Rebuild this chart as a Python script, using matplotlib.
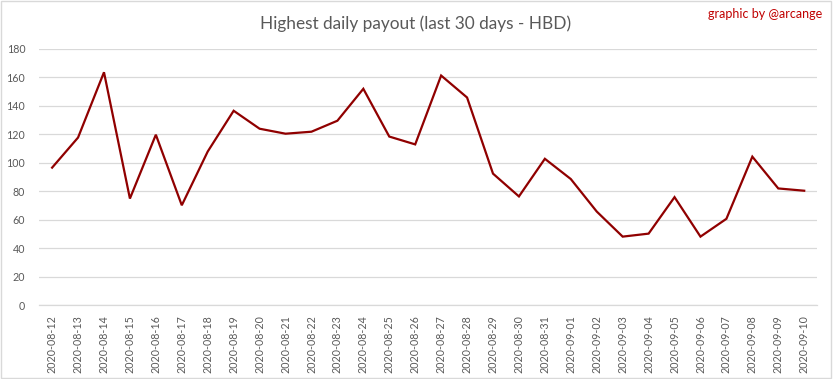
import matplotlib.pyplot as plt
from matplotlib.patches import Rectangle

# daily max payout
dates = ['2020-08-12', '2020-08-13', '2020-08-14', '2020-08-15', '2020-08-16',
         '2020-08-17', '2020-08-18', '2020-08-19', '2020-08-20', '2020-08-21',
         '2020-08-22', '2020-08-23', '2020-08-24', '2020-08-25', '2020-08-26',
         '2020-08-27', '2020-08-28', '2020-08-29', '2020-08-30', '2020-08-31',
         '2020-09-01', '2020-09-02', '2020-09-03', '2020-09-04', '2020-09-05',
         '2020-09-06', '2020-09-07', '2020-09-08', '2020-09-09', '2020-09-10']
payout = [96.7, 117.8, 163.6, 75.0, 119.8, 70.3, 108.0, 136.6, 124.0, 120.5,
          121.9, 129.6, 152.0, 118.5, 113.0, 161.3, 145.9, 92.5, 76.5, 102.9,
          88.7, 65.9, 48.3, 50.4, 76.0, 48.3, 60.8, 104.4, 82.1, 80.5]
yticks = [0, 20, 40, 60, 80, 100, 120, 140, 160, 180]

plt.rcParams['font.family'] = ['Lato', 'DejaVu Sans']
grey = '#595959'
grid_col = '#d9d9d9'

fig = plt.figure(figsize=(8.33, 3.79), dpi=100)
ax = fig.add_axes([0.047, 0.194, 0.934, 0.677])

x = list(range(len(dates)))
ax.plot(x, payout, color='#900000', lw=1.6, solid_joinstyle='miter')

ax.set_xlim(-0.5, len(dates) - 0.5)
ax.set_ylim(0, 180)
ax.set_yticks(yticks)
ax.set_yticklabels([str(v) for v in yticks])
ax.set_xticks(x)
ax.set_xticklabels(dates, rotation=90)
ax.tick_params(axis='both', length=0, colors=grey, labelsize=7.7)
ax.tick_params(axis='y', pad=10)
ax.tick_params(axis='x', pad=7)

ax.yaxis.grid(True, color=grid_col, lw=0.9)
ax.set_axisbelow(True)
for s in ['top', 'right', 'left']:
    ax.spines[s].set_visible(False)
ax.spines['bottom'].set_color(grid_col)
ax.spines['bottom'].set_linewidth(0.9)

fig.text(0.4985, 0.937, 'Highest daily payout (last 30 days - HBD)', ha='center',
         va='center', fontsize=12.4, color=grey)
fig.text(0.987, 0.963, 'graphic by @arcange', ha='right', va='center',
         fontsize=9, color='#c00000')

fig.patches.append(Rectangle((0.001, 0.002), 0.997, 0.995, transform=fig.transFigure,
                             fill=False, edgecolor=grid_col, lw=1))

fig.savefig('out.png', dpi=100)
